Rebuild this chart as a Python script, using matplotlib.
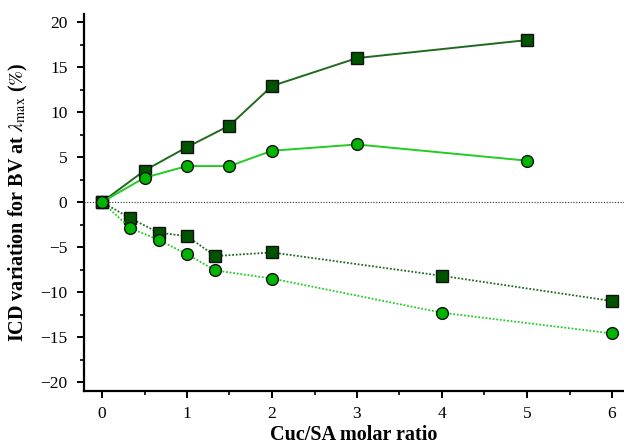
import matplotlib
matplotlib.use("Agg")
import matplotlib.pyplot as plt
from matplotlib.ticker import MultipleLocator

plt.rcParams['font.family'] = ['Liberation Serif', 'DejaVu Serif']
plt.rcParams['mathtext.fontset'] = 'stix'

# data
x_pos = [0, 0.5, 1, 1.5, 2, 3, 5]
sq_pos = [0, 3.5, 6.1, 8.5, 12.9, 16.0, 18.0]
ci_pos = [0, 2.7, 4.0, 4.0, 5.7, 6.4, 4.6]

x_neg = [0, 1/3, 2/3, 1, 4/3, 2, 4, 6]
sq_neg = [0, -1.8, -3.4, -3.8, -6.0, -5.6, -8.2, -11.0]
ci_neg = [0, -2.9, -4.2, -5.8, -7.6, -8.5, -12.3, -14.6]

dark_line = '#1f6a1f'
dark_fill = '#005400'
light_line = '#22cc22'
light_fill = '#00b400'

fig = plt.figure(figsize=(6.24, 4.48), dpi=100)
ax = fig.add_axes([84/624, 1-391/448, 1-84/624, (391-14)/448])

ax.axhline(0, color='#333333', lw=0.8, ls=(0, (1, 1.5)), zorder=1)

ms = 8.5
ax.plot(x_neg, sq_neg, color=dark_line, lw=1.3, ls=(0, (1, 1)), marker='s',
        ms=ms, mfc=dark_fill, mec='#111111', mew=1, zorder=3)
ax.plot(x_neg, ci_neg, color=light_line, lw=1.3, ls=(0, (1, 1)), marker='o',
        ms=ms, mfc=light_fill, mec='#111111', mew=1, zorder=3)
ax.plot(x_pos, sq_pos, color=dark_line, lw=1.4, marker='s',
        ms=ms, mfc=dark_fill, mec='#111111', mew=1, zorder=4)
ax.plot(x_pos, ci_pos, color=light_line, lw=1.4, marker='o',
        ms=ms, mfc=light_fill, mec='#111111', mew=1, zorder=4)

ax.set_xlim(-18/85, 6 + 12/85)
ax.set_ylim(-21, 20.9)
ax.xaxis.set_major_locator(MultipleLocator(1))
ax.xaxis.set_minor_locator(MultipleLocator(0.5))
ax.yaxis.set_major_locator(MultipleLocator(5))
ax.yaxis.set_minor_locator(MultipleLocator(2.5))

for s in ['top', 'right']:
    ax.spines[s].set_visible(False)
for s in ['left', 'bottom']:
    ax.spines[s].set_linewidth(1.6)

ax.tick_params(which='major', direction='out', length=5, width=1.4, labelsize=12.5, pad=7)
ax.tick_params(axis='x', which='major', pad=6)
ax.tick_params(which='minor', direction='out', length=3, width=1.2)

ax.set_xlabel('Cuc/SA molar ratio', fontsize=14.5, fontweight='bold', labelpad=2)
ax.set_ylabel(r'ICD variation for BV at $\lambda_{\mathrm{max}}$ ($\%$)',
              fontsize=14.5, fontweight='bold', labelpad=7)

fig.savefig('out.png', dpi=100)
